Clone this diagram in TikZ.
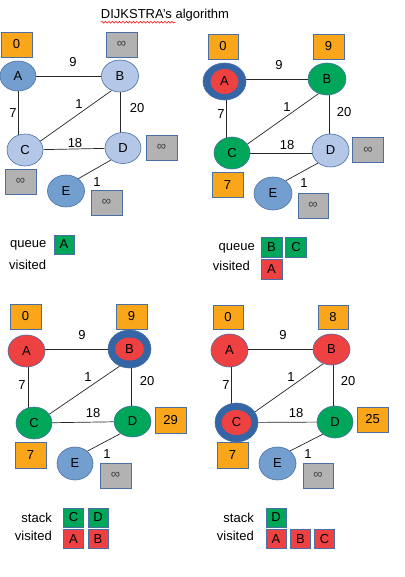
\documentclass[tikz,border=0pt]{standalone}
\usepackage{fontspec}
\setmainfont{Liberation Sans}
\usetikzlibrary{shapes.geometric,decorations.pathmorphing}
\definecolor{bordc}{RGB}{74,111,165}
\definecolor{ringc}{RGB}{52,101,164}
\definecolor{lightb}{RGB}{180,199,231}
\definecolor{midb}{RGB}{114,159,207}
\definecolor{redF}{RGB}{238,65,65}
\definecolor{greenF}{RGB}{0,166,90}
\definecolor{orangeF}{RGB}{250,166,26}
\definecolor{grayF}{RGB}{178,178,178}
\pgfdeclarelayer{background}
\pgfsetlayers{background,main}
\tikzset{
  vert/.style={ellipse, draw=bordc, line width=0.6pt, inner sep=0pt},
  lbv/.style={vert, fill=lightb},
  mbv/.style={vert, fill=midb},
  rdv/.style={vert, fill=redF},
  grv/.style={vert, fill=greenF},
  ringv/.style={ellipse, fill=ringc, draw=bordc, line width=0.6pt, inner sep=0pt},
  innerv/.style={ellipse, fill=redF, inner sep=0pt},
  valbox/.style={rectangle, draw=bordc, line width=0.6pt, inner sep=0pt, minimum width=31, minimum height=25},
  obox/.style={valbox, fill=orangeF},
  gbox/.style={valbox, fill=grayF, text=black!75},
  qbox/.style={rectangle, draw=bordc, line width=0.6pt, inner sep=0pt, minimum width=20, minimum height=19},
  qg/.style={qbox, fill=greenF},
  qr/.style={qbox, fill=redF},
  edgeline/.style={draw=black!85, line width=0.7pt},
  lbl/.style={inner sep=0pt},
}
\begin{document}
\begin{tikzpicture}[x=1pt,y=-1pt,font=\fontsize{13}{15}\selectfont]
\begin{pgfonlayer}{background}
\fill[white] (0,0) rectangle (404,577);
\end{pgfonlayer}
\useasboundingbox (0,0) rectangle (404,577);

% title
\node[lbl] (title) at (165,15) {DIJKSTRA's algorithm};
\draw[red, line width=0.5pt, decorate, decoration={snake, amplitude=0.9pt, segment length=3.5pt}] (title.south west) ++(0,1) coordinate (w1) -- ++(75,0) coordinate (w2);

% ---------------- panel 1 ----------------
\node[mbv, minimum width=36, minimum height=30] (a1) at (18,76) {A};
\node[lbv, minimum width=37, minimum height=32] (b1) at (120,76) {B};
\node[lbv, minimum width=36, minimum height=32] (c1) at (25,150) {C};
\node[lbv, minimum width=36, minimum height=31] (d1) at (123,148) {D};
\node[mbv, minimum width=37, minimum height=32] (e1) at (66,191) {E};
\node[obox] (va1) at (16.5,44.5) {0};
\node[gbox] (vb1) at (121.5,44.5) {∞};
\node[gbox] (vd1) at (161.5,147.5) {∞};
\node[gbox] (vc1) at (20.5,181.5) {∞};
\node[gbox] (ve1) at (106.5,202.5) {∞};
\node[lbl] (l1ab) at (73,62) {9};
\node[lbl] (l1ac) at (13,113) {7};
\node[lbl] (l1bc) at (79,104) {1};
\node[lbl] (l1bd) at (137,108) {20};
\node[lbl] (l1cd) at (75,143) {18};
\node[lbl] (l1de) at (97,182) {1};
\begin{pgfonlayer}{background}
\draw[edgeline] (a1) -- (b1);
\draw[edgeline] (a1) -- (a1 |- c1);
\draw[edgeline] (b1.240) -- (c1.30);
\draw[edgeline] (b1) -- (b1 |- d1);
\draw[edgeline] (c1) -- (d1);
\draw[edgeline] (d1.225) -- (e1.45);
\end{pgfonlayer}
\node[lbl, anchor=west] (q1) at (10,245) {queue};
\node[lbl, anchor=west] (s1) at (9,265) {visited};
\node[qg] (q1a) at (64,244.5) {A};

% ---------------- panel 2 ----------------
\node[ringv, minimum width=43, minimum height=37] (a2) at (224.5,81.5) {};
\node[innerv, minimum width=28, minimum height=25] (a2i) at (a2) {A};
\node[grv, minimum width=38, minimum height=32] (b2) at (327,79) {B};
\node[grv, minimum width=36, minimum height=32] (c2) at (232,153) {C};
\node[lbv, minimum width=37, minimum height=33] (d2) at (330.5,150.5) {D};
\node[mbv, minimum width=38, minimum height=33] (e2) at (273,193.5) {E};
\node[obox, minimum width=30] (va2) at (223,46.5) {0};
\node[obox] (vb2) at (328.5,46.5) {9};
\node[gbox] (vd2) at (368,150) {∞};
\node[obox] (vc2) at (227.5,185) {7};
\node[gbox, minimum width=30] (ve2) at (313,205.5) {∞};
\node[lbl] (l2ab) at (279,65) {9};
\node[lbl] (l2ac) at (221,114) {7};
\node[lbl] (l2bc) at (287,107) {1};
\node[lbl] (l2bd) at (344,112) {20};
\node[lbl] (l2cd) at (287,145) {18};
\node[lbl] (l2de) at (304,183) {1};
\begin{pgfonlayer}{background}
\draw[edgeline] (a2 |- b2) -- (b2);
\draw[edgeline] (a2) ++(1.5,0) coordinate (a2x) -- (a2x |- c2);
\draw[edgeline] (b2.240) -- (c2.30);
\draw[edgeline] (b2) ++(2,0) coordinate (b2x) -- (b2x |- d2);
\draw[edgeline] (c2) -- (c2 -| d2);
\draw[edgeline] (d2.225) -- (e2.45);
\end{pgfonlayer}
\node[lbl, anchor=east] (q2) at (255,248) {queue};
\node[lbl, anchor=east] (s2) at (250,266) {visited};
\node[qg, minimum width=21, minimum height=20] (q2b) at (271.5,247) {B};
\node[qg, minimum width=21, minimum height=20] (q2c) at (296,247) {C};
\node[qr, minimum width=21, minimum height=20] (s2a) at (271.5,269) {A};

% ---------------- panel 3 ----------------
\node[rdv, minimum width=37, minimum height=32] (a3) at (26.5,351) {A};
\node[ringv, minimum width=43, minimum height=38] (b3) at (129.5,349) {};
\node[innerv, minimum width=29, minimum height=23] (b3i) at (b3) {B};
\node[grv, minimum width=36, minimum height=32] (c3) at (34,423) {C};
\node[grv, minimum width=37, minimum height=31] (d3) at (132.5,421.5) {D};
\node[mbv, minimum width=36, minimum height=33] (e3) at (75,463.5) {E};
\node[obox] (va3) at (25.5,316.5) {0};
\node[obox] (vb3) at (131.5,316.5) {9};
\node[obox, minimum height=26] (vd3) at (170.5,420) {29};
\node[obox, minimum height=26] (vc3) at (30.5,455) {7};
\node[gbox] (ve3) at (115.5,475.5) {∞};
\node[lbl] (l3ab) at (82,335) {9};
\node[lbl] (l3ac) at (22,385) {7};
\node[lbl] (l3bc) at (88,377) {1};
\node[lbl] (l3bd) at (147,381) {20};
\node[lbl] (l3cd) at (93,413) {18};
\node[lbl] (l3de) at (107,454) {1};
\begin{pgfonlayer}{background}
\draw[edgeline] (a3 |- b3) -- (b3);
\draw[edgeline] (a3) ++(1.5,0) coordinate (a3x) -- (a3x |- c3);
\draw[edgeline] (b3.240) -- (c3.30);
\draw[edgeline] (b3) ++(1.5,0) coordinate (b3x) -- (b3x |- d3);
\draw[edgeline] (c3) -- (d3);
\draw[edgeline] (d3.225) -- (e3.45);
\end{pgfonlayer}
\node[lbl, anchor=east] (q3) at (52,518) {stack};
\node[lbl, anchor=east] (s3) at (52,536) {visited};
\node[qg] (q3c) at (73.5,517.5) {C};
\node[qg] (q3d) at (98,517.5) {D};
\node[qr] (s3a) at (73.5,539) {A};
\node[qr] (s3b) at (98,539) {B};

% ---------------- panel 4 ----------------
\node[rdv, minimum width=37, minimum height=33] (a4) at (229.5,350.5) {A};
\node[rdv, minimum width=37, minimum height=31] (b4) at (331.5,349.5) {B};
\node[ringv, minimum width=43, minimum height=39] (c4) at (236.5,422.5) {};
\node[innerv, minimum width=30, minimum height=25] (c4i) at (c4) {C};
\node[grv, minimum width=36, minimum height=32] (d4) at (335,422) {D};
\node[mbv, minimum width=37, minimum height=33] (e4) at (277.5,463.5) {E};
\node[obox, minimum width=30, minimum height=24] (va4) at (228,317) {0};
\node[obox, minimum width=30, minimum height=24] (vb4) at (333,317) {8};
\node[obox] (vd4) at (372.5,419.5) {25};
\node[obox, minimum height=26] (vc4) at (232.5,455) {7};
\node[gbox, minimum width=30] (ve4) at (318,475.5) {∞};
\node[lbl] (l4ab) at (283,335) {9};
\node[lbl] (l4ac) at (226,385) {7};
\node[lbl] (l4bc) at (291,377) {1};
\node[lbl] (l4bd) at (348,381) {20};
\node[lbl] (l4cd) at (296,413) {18};
\node[lbl] (l4de) at (308,454) {1};
\begin{pgfonlayer}{background}
\draw[edgeline] (a4 |- b4) -- (b4);
\draw[edgeline] (a4) ++(1.5,0) coordinate (a4x) -- (a4x |- c4);
\draw[edgeline] (b4.240) -- (c4.30);
\draw[edgeline] (b4) ++(1.5,0) coordinate (b4x) -- (b4x |- d4);
\draw[edgeline] (c4) -- (d4);
\draw[edgeline] (d4.225) -- (e4.45);
\end{pgfonlayer}
\node[lbl, anchor=east] (q4) at (254,518) {stack};
\node[lbl, anchor=east] (s4) at (254,536) {visited};
\node[qg] (q4d) at (276,517.5) {D};
\node[qr] (s4a) at (276,539) {A};
\node[qr] (s4b) at (300.5,539) {B};
\node[qr] (s4c) at (324.5,539) {C};
\end{tikzpicture}
\end{document}
